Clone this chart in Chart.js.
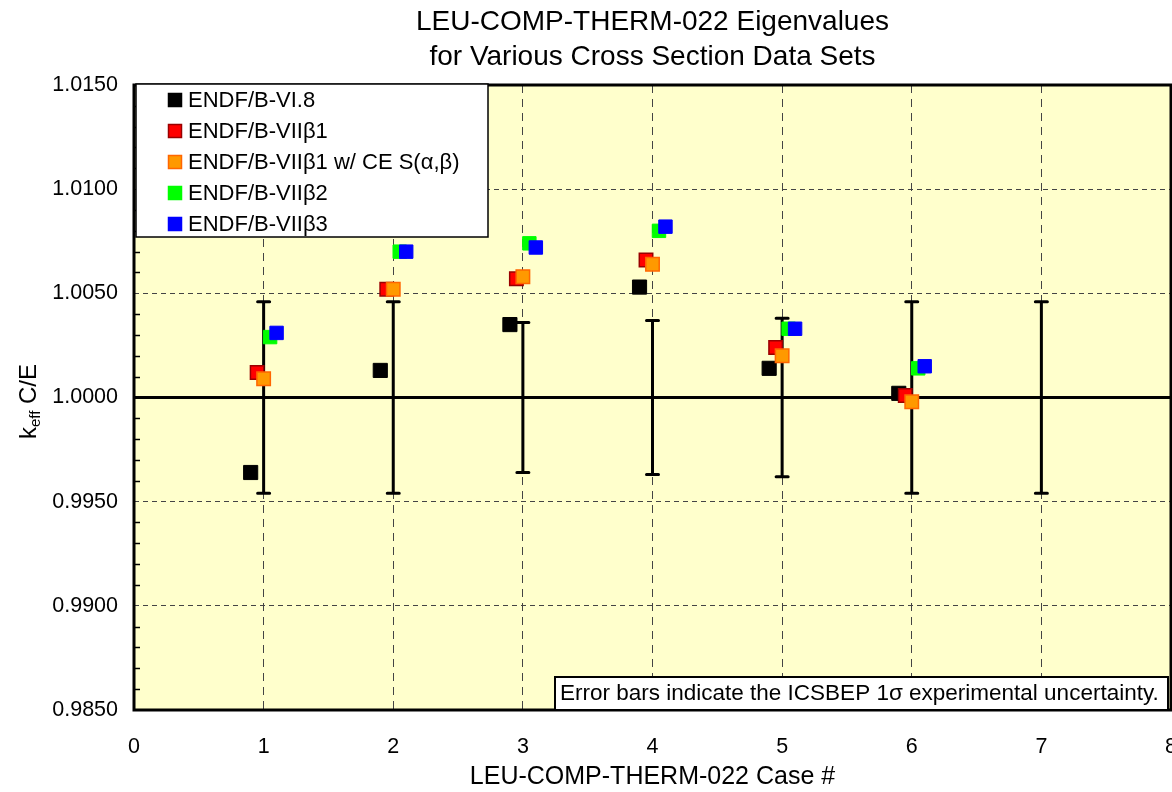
<!DOCTYPE html>
<html>
<head>
<meta charset="utf-8">
<title>LEU-COMP-THERM-022 Eigenvalues</title>
<script src="https://cdn.jsdelivr.net/npm/chart.js@4.4.0/dist/chart.umd.min.js"></script>
<style>
  html, body { margin: 0; background: #ffffff; overflow: hidden; }
  #wrap { width: 1172px; height: 792px; overflow: hidden; }
</style>
</head>
<body>
<div id="wrap"><canvas id="myChart" width="1182" height="792"></canvas></div>
<script>
// Номера опытов и значения k_eff C/E для каждой библиотеки
const cases = [1, 2, 3, 4, 5, 6];
const keffVI8 = [0.9964, 1.0013, 1.0035, 1.0053, 1.0014, 1.0002];
const keffB1 = [1.0012, 1.0052, 1.0057, 1.0066, 1.0024, 1.0001];
const keffB1CE = [1.0009, 1.0052, 1.0058, 1.0064, 1.0020, 0.9998];
const keffB2 = [1.0029, 1.0070, 1.0074, 1.0080, 1.0033, 1.0014];
const keffB3 = [1.0031, 1.0070, 1.0072, 1.0082, 1.0033, 1.0015];

// Экспериментальная неопределённость (1 sigma)
const errCases = [1, 2, 3, 4, 5, 6, 7];
const errSigma = [0.0046, 0.0046, 0.0036, 0.0037, 0.0038, 0.0046, 0.0046];

const seriesLabels = [
  'ENDF/B-VI.8',
  'ENDF/B-VII\u03B21',
  'ENDF/B-VII\u03B21 w/ CE S(\u03B1,\u03B2)',
  'ENDF/B-VII\u03B22',
  'ENDF/B-VII\u03B23'
];
const xTicks = [0, 1, 2, 3, 4, 5, 6, 7, 8];
const yTicks = [0.985, 0.990, 0.995, 1.000, 1.005, 1.010, 1.015];

const FONT = '"Liberation Sans", Arial, sans-serif';

document.addEventListener('DOMContentLoaded', () => {
  const seriesValues = [keffVI8, keffB1, keffB1CE, keffB2, keffB3];
  const fills = ['#000000', '#ff0000', '#ff9900', '#00ff00', '#0000ff'];
  const borders = ['#000000', '#990000', '#ff6600', '#00ff00', '#0000ff'];
  const shift = [-0.1, -0.05, 0, 0.05, 0.1]; // сдвиг точек вокруг номера опыта

  const datasets = seriesValues.map((vals, s) => ({
    label: seriesLabels[s],
    data: cases.map((c, i) => ({ x: c + shift[s], y: vals[i] })),
    pointStyle: 'rect',
    pointRadius: s === 0 ? 10 : 9.5,
    pointBackgroundColor: fills[s],
    pointBorderColor: borders[s],
    pointBorderWidth: s === 1 || s === 2 ? 1.5 : 1,
    order: 4 - s
  }));

  // линия k_eff = 1
  datasets.push({
    type: 'line',
    label: 'unity',
    data: [{ x: xTicks[0], y: 1 }, { x: xTicks[xTicks.length - 1], y: 1 }],
    borderColor: '#000000',
    borderWidth: 3,
    pointRadius: 0,
    order: 10
  });

  // фон области графика
  const bgPlugin = {
    id: 'bg',
    beforeDraw(chart) {
      const { ctx, chartArea: a } = chart;
      ctx.save();
      ctx.fillStyle = '#ffffcc';
      ctx.fillRect(a.left, a.top, a.right - a.left, a.bottom - a.top);
      ctx.restore();
    }
  };

  // погрешности эксперимента
  const errPlugin = {
    id: 'errbars',
    beforeDatasetsDraw(chart) {
      const { ctx, scales: { x, y } } = chart;
      ctx.save();
      ctx.strokeStyle = '#000000';
      ctx.lineWidth = 3;
      ctx.lineCap = 'round';
      errCases.forEach((c, i) => {
        const px = x.getPixelForValue(c);
        const top = y.getPixelForValue(1 + errSigma[i]);
        const bot = y.getPixelForValue(1 - errSigma[i]);
        ctx.beginPath();
        ctx.moveTo(px, top);
        ctx.lineTo(px, bot);
        ctx.moveTo(px - 6, top);
        ctx.lineTo(px + 6, top);
        ctx.moveTo(px - 6, bot);
        ctx.lineTo(px + 6, bot);
        ctx.stroke();
      });
      ctx.restore();
    }
  };

  // рамка, мелкие деления, легенда, подписи
  const framePlugin = {
    id: 'frame',
    afterDraw(chart) {
      const { ctx, chartArea: a, scales: { y } } = chart;
      ctx.save();

      // мелкие деления по оси Y
      ctx.strokeStyle = '#000000';
      ctx.lineWidth = 1.5;
      for (let k = 1; k < 30; k++) {
        if (k % 5 === 0) continue;
        const py = Math.round(y.getPixelForValue(yTicks[0] + k * 0.001)) + 0.5;
        ctx.beginPath();
        ctx.moveTo(a.left, py);
        ctx.lineTo(a.left + 6, py);
        ctx.stroke();
      }

      ctx.lineWidth = 3;
      ctx.strokeRect(a.left, a.top, a.right - a.left, a.bottom - a.top);

      // легенда
      const lx = 136, ly = 84, lw = 352, lh = 153;
      ctx.fillStyle = '#ffffff';
      ctx.fillRect(lx, ly, lw, lh);
      ctx.lineWidth = 1.5;
      ctx.strokeStyle = '#000000';
      ctx.strokeRect(lx, ly, lw, lh);
      ctx.font = '22px ' + FONT;
      ctx.textBaseline = 'middle';
      ctx.textAlign = 'left';
      seriesLabels.forEach((lab, s) => {
        const ry = ly + 16 + s * 31;
        ctx.fillStyle = fills[s];
        ctx.fillRect(168, ry - 7, 14, 14);
        ctx.lineWidth = 1.5;
        ctx.strokeStyle = borders[s];
        ctx.strokeRect(168.5, ry - 6.5, 13, 13);
        ctx.fillStyle = '#000000';
        ctx.fillText(lab, 188, ry + 1);
      });

      // пояснение к погрешностям
      ctx.fillStyle = '#ffffff';
      ctx.fillRect(555, 677, 613, 33);
      ctx.lineWidth = 2;
      ctx.strokeStyle = '#000000';
      ctx.strokeRect(555, 677, 613, 33);
      ctx.fillStyle = '#000000';
      ctx.font = '22.5px ' + FONT;
      ctx.fillText('Error bars indicate the ICSBEP 1\u03C3 experimental uncertainty.', 560, 694);

      // заголовок
      const cx = (a.left + a.right) / 2;
      ctx.textAlign = 'center';
      ctx.font = '28px ' + FONT;
      ctx.fillText('LEU-COMP-THERM-022 Eigenvalues', cx, 22);
      ctx.fillText('for Various Cross Section Data Sets', cx, 57);

      // подпись оси Y с индексом
      ctx.translate(28, (a.top + a.bottom) / 2 + 4);
      ctx.rotate(-Math.PI / 2);
      ctx.textAlign = 'left';
      ctx.textBaseline = 'alphabetic';
      ctx.font = '24px ' + FONT;
      const wk = ctx.measureText('k').width;
      ctx.font = '15px ' + FONT;
      const we = ctx.measureText('eff').width;
      ctx.font = '24px ' + FONT;
      const wr = ctx.measureText(' C/E').width;
      let tx = -(wk + we + wr) / 2;
      ctx.fillText('k', tx, 8);
      tx += wk;
      ctx.font = '15px ' + FONT;
      ctx.fillText('eff', tx, 12);
      tx += we;
      ctx.font = '24px ' + FONT;
      ctx.fillText(' C/E', tx, 8);

      ctx.restore();
    }
  };

  const plot = document.getElementById('myChart').getContext('2d');
  new Chart(plot, {
    type: 'scatter',
    data: { datasets: datasets },
    options: {
      responsive: false,
      animation: false,
      events: [],
      layout: { padding: { top: 85, right: 2, left: 0, bottom: 0 } },
      plugins: {
        legend: { display: false },
        tooltip: { enabled: false },
        title: { display: false }
      },
      scales: {
        x: {
          type: 'linear',
          min: xTicks[0],
          max: xTicks[xTicks.length - 1],
          afterBuildTicks: (scale) => { scale.ticks = xTicks.map(v => ({ value: v })); },
          afterFit: (scale) => {
            scale.height = 82;
            scale.paddingLeft = 0;
            scale.paddingRight = 0;
          },
          ticks: {
            padding: 24,
            color: '#000000',
            font: { family: FONT, size: 21.5 },
            callback: (v) => String(v)
          },
          grid: {
            drawTicks: false,
            color: (ctx) => (ctx.tick && (ctx.tick.value === 0 || ctx.tick.value === 8)) ? 'rgba(0,0,0,0)' : '#444444',
            lineWidth: 1
          },
          border: { display: false, dash: [8, 6] },
          title: {
            display: true,
            text: 'LEU-COMP-THERM-022 Case #',
            color: '#000000',
            font: { family: FONT, size: 25 },
            padding: { top: 0, bottom: 0 }
          }
        },
        y: {
          type: 'linear',
          min: yTicks[0],
          max: yTicks[yTicks.length - 1],
          afterBuildTicks: (scale) => { scale.ticks = yTicks.map(v => ({ value: v })); },
          afterFit: (scale) => {
            scale.width = 134;
            scale.paddingTop = 0;
            scale.paddingBottom = 0;
          },
          ticks: {
            padding: 16,
            color: '#000000',
            font: { family: FONT, size: 21.5 },
            callback: (v) => Number(v).toFixed(4)
          },
          grid: {
            drawTicks: false,
            color: '#444444',
            lineWidth: 1
          },
          border: { display: false, dash: [5, 4] }
        }
      }
    },
    plugins: [bgPlugin, errPlugin, framePlugin]
  });
});
</script>
</body>
</html>
